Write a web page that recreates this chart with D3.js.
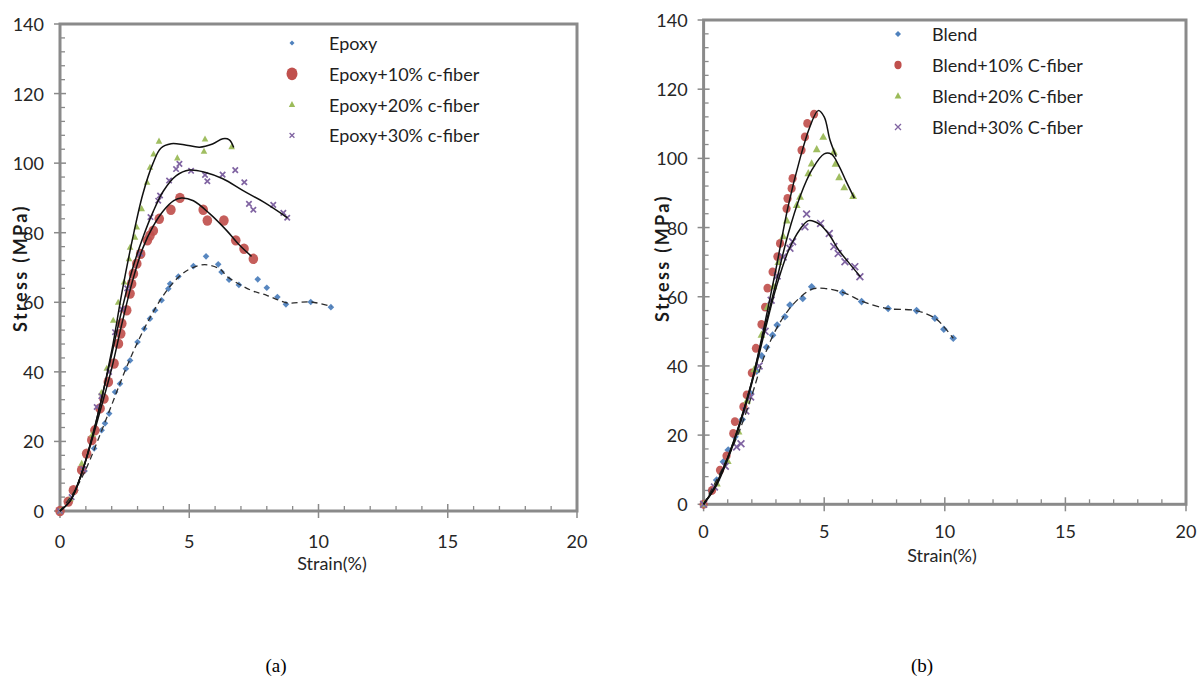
<!DOCTYPE html>
<html>
<head>
<meta charset="utf-8">
<script src="https://cdn.jsdelivr.net/npm/d3@7"></script>
<style>
  html, body { margin: 0; padding: 0; background: #fff; }
  svg { display: block; }
  .num { font-family: Lato, "Open Sans", sans-serif; font-size: 18px; fill: #262626; }
  .ytitle { font-family: Lato, "Open Sans", sans-serif; font-size: 18px; font-weight: bold; fill: #1a1a1a; letter-spacing: 2.4px; }
  .leg { font-family: Lato, "Open Sans", sans-serif; font-size: 18px; fill: #1f1f1f; }
  .cap { font-family: "Liberation Serif", "DejaVu Serif", serif; font-size: 19px; fill: #000; }
</style>
</head>
<body>
<svg id="fig" width="1198" height="682"></svg>
<script>
// ---- axis ticks ----
const xTicks = [0, 5, 10, 15, 20];
const yTicks = [0, 20, 40, 60, 80, 100, 120, 140];
const xMinorStep = 1;
const yMinorStep = 4;

// ---- series names ----
const labelsA = ["Epoxy", "Epoxy+10% c-fiber", "Epoxy+20% c-fiber", "Epoxy+30% c-fiber"];
const labelsB = ["Blend", "Blend+10% C-fiber", "Blend+20% C-fiber", "Blend+30% C-fiber"];
const seriesColors = ["#4F81BD", "#C0504D", "#9BBB59", "#8064A2"];
const markerShapes = ["diamond", "circle", "triangle", "cross"];

// ---- (a) epoxy composites: measured points [strain %, stress MPa] ----
const epoxyPts = [[0,0],[0.3,2.5],[0.6,6],[0.95,11.5],[1.32,18],[1.61,23.2],[1.74,25.2],[1.9,28],[2.13,34.2],[2.32,36.6],[2.55,40.9],[2.71,43.3],[3.0,48.6],[3.26,52.4],[3.48,55.3],[3.68,57.7],[3.93,60.6],[4.19,63.9],[4.26,65.3],[4.58,67.4],[5.16,70.4],[5.65,73.2],[6.12,70.9],[6.25,68.7],[6.54,66.5],[6.92,65],[7.65,66.6],[8.0,64.2],[8.41,61.5],[8.74,59.4],[9.7,60.1],[10.48,58.6]];
const epoxy10Pts = [[0,0],[0.32,2.7],[0.52,6],[0.84,11.8],[1.03,16.5],[1.23,20.4],[1.35,23.2],[1.55,29.5],[1.7,32.3],[1.87,37.1],[2.09,42.4],[2.26,48.1],[2.35,51],[2.39,53.9],[2.58,57.7],[2.71,62.5],[2.77,65.3],[2.84,68.2],[2.97,71.1],[3.12,73.9],[3.38,77.8],[3.48,79.2],[3.61,80.6],[3.84,84],[4.29,86.6],[4.64,90],[5.54,86.6],[5.7,83.5],[6.34,83.5],[6.8,77.8],[7.12,75.4],[7.48,72.5]];
const epoxy20Pts = [[0,0],[0.4,3.5],[0.84,13.7],[1.25,22],[1.6,34],[1.81,41],[2.06,54.8],[2.25,60],[2.48,65.8],[2.67,72.5],[2.71,75.8],[2.9,78.7],[2.97,81.6],[3.16,86.9],[3.37,94.5],[3.48,98.8],[3.62,102.6],[3.83,106.3],[4.54,101.5],[5.57,103.4],[5.61,106.9],[6.64,104.7]];
const epoxy30Pts = [[0,0],[0.45,4],[0.9,12],[1.42,29.9],[1.6,33],[1.9,40],[2.13,51.4],[2.4,58],[2.6,64],[3.1,74],[3.5,84.5],[3.8,89.2],[3.87,90.7],[4.22,95],[4.49,98.3],[4.62,99.8],[5.07,97.8],[5.61,96.6],[5.7,94.8],[6.29,96.7],[6.78,98],[7.13,94.5],[7.31,88.3],[7.48,86.6],[8.25,88],[8.64,85.7],[8.79,84.3]];

// ---- (a) fitted trend curves ----
const epoxyFit = [[0,0],[0.5,5],[1,12],[1.5,21],[2,30.5],[2.5,40],[3,48.5],[3.5,55.8],[4,62],[4.5,66.6],[5,69.5],[5.6,70.8],[6.2,69.5],[6.45,67.5],[7.35,63.6],[8.0,62],[8.5,60.5],[8.8,59.8],[9.7,60.1],[10.5,58.8]];
const epoxy10Fit = [[0,0],[0.4,3],[0.8,10],[1.2,19.5],[1.6,30],[2.0,41],[2.4,54],[2.8,66],[3.2,75.5],[3.6,81.8],[4.0,86.3],[4.4,89.2],[4.7,90],[5.16,89.2],[5.8,85.4],[6.45,80.6],[6.96,76.3],[7.41,73.2]];
const epoxy20Fit = [[0,0],[0.4,3],[0.8,10],[1.2,20],[1.6,32],[2.0,46],[2.4,63],[2.8,78],[3.2,91],[3.6,100],[3.9,104.3],[4.3,105.6],[4.8,105.3],[5.4,104.6],[5.9,105.5],[6.3,107],[6.55,106.7],[6.72,104.5]];
const epoxy30Fit = [[0,0],[0.4,3],[0.8,10],[1.2,20],[1.6,32],[2.0,45],[2.4,58],[2.8,69.5],[3.2,78.5],[3.6,86],[4.0,92],[4.5,96.4],[5.0,98],[5.6,97.4],[6.3,95.5],[7.1,92],[7.9,88.7],[8.8,84.3]];

// ---- (b) blend composites: measured points ----
const blendPts = [[0,0],[0.3,4],[0.54,7],[0.82,12.3],[1.02,15.7],[1.3,19.5],[1.6,24.5],[1.95,32],[2.2,38.5],[2.41,42.9],[2.61,45.4],[2.86,48.9],[3.05,51.8],[3.37,54.2],[3.58,57.6],[4.11,59.5],[4.48,62.9],[5.76,61.2],[6.55,58.6],[7.65,56.6],[8.83,56],[9.59,53.8],[9.96,50.6],[10.35,48]];
const blend10Pts = [[0,0],[0.35,4],[0.68,9.9],[0.95,14],[1.23,20.5],[1.3,23.9],[1.65,28.2],[1.79,31.6],[2.0,38],[2.17,45.1],[2.4,52],[2.55,57],[2.65,62.5],[2.86,67.2],[3.06,71.6],[3.17,75.4],[3.44,85.5],[3.48,88.4],[3.65,91.3],[3.69,94.2],[4.06,102.4],[4.2,106.2],[4.3,110.1],[4.58,112.8]];
const blend20Pts = [[0,0],[0.55,6],[1.0,12.5],[1.45,21],[1.8,30],[2.1,39],[2.4,49],[2.65,57],[2.9,63],[3.1,70],[3.3,77.5],[3.45,82],[3.86,86.5],[4.0,88.9],[4.34,95.7],[4.48,98.5],[4.69,102.6],[4.96,106.2],[5.4,101.9],[5.47,98.4],[5.62,94.5],[5.83,91.6],[6.2,89.1]];
const blend30Pts = [[0,0],[0.45,5],[0.9,11],[1.37,16.6],[1.55,17.5],[1.75,27],[1.95,31],[2.3,40],[2.55,50],[2.8,59],[3.05,66],[3.3,71.5],[3.58,74],[3.69,75.9],[4.2,80.2],[4.27,83.9],[4.85,81.2],[5.21,78.3],[5.4,74.5],[5.58,72.5],[5.86,70.1],[6.27,68.7],[6.48,65.8]];

// ---- (b) fitted trend curves ----
const blendFit = [[0,0],[0.5,6.5],[1,13.5],[1.5,21.5],[2,31.5],[2.5,42.5],[3,50.5],[3.5,56],[4,59.8],[4.5,62.2],[5,62.4],[5.8,61.2],[6.6,58.6],[7.6,56.6],[8.8,56],[9.6,53.8],[10,51],[10.35,48]];
const blend10Fit = [[0,0],[0.5,5.5],[1,13.5],[1.5,23.5],[2,35.5],[2.5,51],[3,68],[3.5,86],[4,100],[4.4,109],[4.75,113.8],[5.0,112],[5.24,105.3],[5.5,100.5]];
const blend20Fit = [[0,0],[0.5,5.5],[1,13.5],[1.5,23.5],[2,35.5],[2.5,50],[3,64],[3.5,78],[4,89],[4.5,96.8],[5.0,101.3],[5.3,101.2],[5.6,98],[5.9,93.5],[6.25,88.5]];
const blend30Fit = [[0,0],[0.5,5],[1,13],[1.5,23],[2,35],[2.5,49],[3,62.5],[3.5,73],[4,79.5],[4.35,82],[4.8,81],[5.2,78],[5.6,73.5],[6,70],[6.5,65.8]];

const svg = d3.select("#fig");
const frameColor = "#8a8a8a";

// marker path generator: s = half-extent in px
function markerPath(shape, s) {
  if (shape === "diamond") return `M0,${-s}L${s},0L0,${s}L${-s},0Z`;
  if (shape === "triangle") return `M0,${-s * 1.1}L${s},${s * 0.75}L${-s},${s * 0.75}Z`;
  if (shape === "cross") return `M${-s},${-s}L${s},${s}M${-s},${s}L${s},${-s}`;
  return null;
}

function drawMarkers(g, pts, shape, color, s, x, y) {
  const sel = g.append("g").selectAll("path").data(pts).join(shape === "circle" ? "ellipse" : "path");
  if (shape === "circle") {
    sel.attr("cx", d => x(d[0])).attr("cy", d => y(d[1]))
       .attr("rx", s).attr("ry", s * 1.08).attr("fill", color).attr("opacity", 0.92);
  } else if (shape === "cross") {
    sel.attr("transform", d => `translate(${x(d[0])},${y(d[1])})`)
       .attr("d", markerPath(shape, s)).attr("fill", "none")
       .attr("stroke", color).attr("stroke-width", 1.7);
  } else {
    sel.attr("transform", d => `translate(${x(d[0])},${y(d[1])})`)
       .attr("d", markerPath(shape, s)).attr("fill", color).attr("opacity", 0.95);
  }
}

function drawPanel(p) {
  const x = d3.scaleLinear().domain([0, 20]).range([p.left, p.right]);
  const y = d3.scaleLinear().domain([0, 140]).range([p.bottom, p.top]);
  const g = svg.append("g");

  // minor ticks (inside the frame)
  const xMinor = d3.range(0, 20 + 1e-9, xMinorStep).filter(v => v % 5 !== 0);
  g.selectAll(".xm").data(xMinor).join("line")
    .attr("x1", d => x(d)).attr("x2", d => x(d))
    .attr("y1", p.bottom - 5).attr("y2", p.bottom)
    .attr("stroke", frameColor).attr("stroke-width", 1.3);
  const yMinor = d3.range(0, 140 + 1e-9, yMinorStep).filter(v => v % 20 !== 0);
  g.selectAll(".ym").data(yMinor).join("line")
    .attr("x1", p.left).attr("x2", p.left + 5)
    .attr("y1", d => y(d)).attr("y2", d => y(d))
    .attr("stroke", frameColor).attr("stroke-width", 1.3);

  // major ticks crossing the axes
  g.selectAll(".xM").data(xTicks).join("line")
    .attr("x1", d => x(d)).attr("x2", d => x(d))
    .attr("y1", p.bottom - 7).attr("y2", p.bottom + 7)
    .attr("stroke", frameColor).attr("stroke-width", 1.5);
  g.selectAll(".yM").data(yTicks).join("line")
    .attr("x1", p.left - 6).attr("x2", p.left + 6)
    .attr("y1", d => y(d)).attr("y2", d => y(d))
    .attr("stroke", frameColor).attr("stroke-width", 1.5);

  // frame
  g.append("rect")
    .attr("x", p.left).attr("y", p.top)
    .attr("width", p.right - p.left).attr("height", p.bottom - p.top)
    .attr("fill", "none").attr("stroke", frameColor).attr("stroke-width", 3);

  // tick labels
  g.selectAll(".xl").data(xTicks).join("text")
    .attr("class", "num").attr("x", d => x(d)).attr("y", p.bottom + p.xLabelGap)
    .attr("text-anchor", "middle").attr("dominant-baseline", "central")
    .text(d => d);
  g.selectAll(".yl").data(yTicks).join("text")
    .attr("class", "num").attr("x", p.left - 16).attr("y", d => y(d))
    .attr("text-anchor", "end").attr("dominant-baseline", "central")
    .text(d => d);

  // axis titles
  g.append("text").attr("class", "num")
    .attr("x", p.xTitle[0]).attr("y", p.xTitle[1])
    .attr("text-anchor", "middle").attr("dominant-baseline", "central")
    .text("Strain(%)");
  g.append("text").attr("class", "ytitle")
    .attr("transform", `translate(${p.yTitle[0]},${p.yTitle[1]}) rotate(-90)`)
    .attr("text-anchor", "middle").attr("dominant-baseline", "central")
    .text("Stress (MPa)");

  // data markers
  p.points.forEach((pts, i) => drawMarkers(g, pts, markerShapes[i], seriesColors[i], p.sizes[i], x, y));

  // trend curves (first series dashed)
  const line = d3.line().x(d => x(d[0])).y(d => y(d[1])).curve(d3.curveCatmullRom.alpha(0.5));
  p.fits.forEach((f, i) => {
    g.append("path").attr("d", line(f)).attr("fill", "none")
      .attr("stroke", i === 0 ? "#2b2b2b" : "#111")
      .attr("stroke-width", i === 0 ? 1.3 : 1.5)
      .attr("stroke-dasharray", i === 0 ? p.dash : null);
  });

  // legend
  const lg = g.append("g");
  p.labels.forEach((lab, i) => {
    const ly = p.legend.y0 + i * p.legend.dy;
    const shape = markerShapes[i];
    const s = p.legendSizes[i];
    if (shape === "circle") {
      lg.append("ellipse").attr("cx", p.legend.mx).attr("cy", ly)
        .attr("rx", s).attr("ry", s * 1.15).attr("fill", seriesColors[i]);
    } else if (shape === "cross") {
      lg.append("path").attr("transform", `translate(${p.legend.mx},${ly})`)
        .attr("d", markerPath(shape, s)).attr("fill", "none")
        .attr("stroke", seriesColors[i]).attr("stroke-width", 1.3);
    } else {
      lg.append("path").attr("transform", `translate(${p.legend.mx},${ly})`)
        .attr("d", markerPath(shape, s)).attr("fill", seriesColors[i]);
    }
    lg.append("text").attr("class", "leg")
      .attr("x", p.legend.tx).attr("y", ly)
      .attr("dominant-baseline", "central").text(lab);
  });

  // panel caption
  svg.append("text").attr("class", "cap")
    .attr("x", p.caption[0]).attr("y", p.caption[1])
    .attr("text-anchor", "middle").attr("dominant-baseline", "central")
    .text(p.captionText);
}

drawPanel({
  left: 60, right: 577, top: 24, bottom: 511,
  xLabelGap: 30, xTitle: [332, 563], yTitle: [20, 268],
  points: [epoxyPts, epoxy10Pts, epoxy20Pts, epoxy30Pts],
  fits: [epoxyFit, epoxy10Fit, epoxy20Fit, epoxy30Fit],
  sizes: [3.3, 4.8, 3.3, 2.7],
  dash: "6,4",
  labels: labelsA,
  legend: { mx: 292, tx: 329, y0: 43, dy: 30.8 },
  legendSizes: [2.5, 5.5, 3.2, 2.4],
  caption: [276, 665], captionText: "(a)"
});

drawPanel({
  left: 703.6, right: 1186, top: 20, bottom: 504.3,
  xLabelGap: 27, xTitle: [942, 555], yTitle: [662, 258],
  points: [blendPts, blend10Pts, blend20Pts, blend30Pts],
  fits: [blendFit, blend10Fit, blend20Fit, blend30Fit],
  sizes: [3.8, 4.1, 3.9, 3.4],
  dash: "7,4",
  labels: labelsB,
  legend: { mx: 898, tx: 932, y0: 34, dy: 31 },
  legendSizes: [3, 3.6, 3.4, 3],
  caption: [922, 665], captionText: "(b)"
});
</script>
</body>
</html>
